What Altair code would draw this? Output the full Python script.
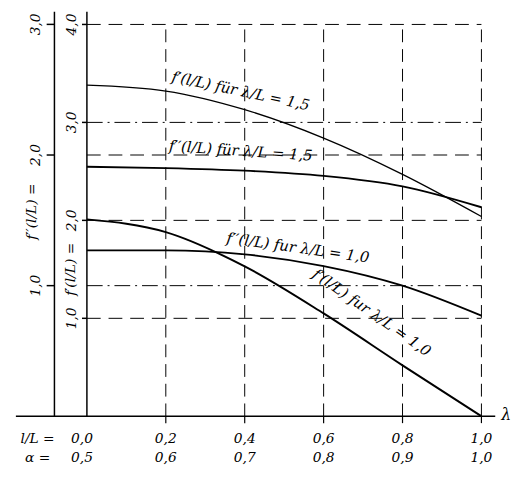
import altair as alt
import pandas as pd

# ---- data ----
l_over_L = [0.0, 0.2, 0.4, 0.6, 0.8, 1.0]
alpha_vals = [0.5, 0.6, 0.7, 0.8, 0.9, 1.0]
f1_15 = [3.38, 3.32, 3.13, 2.84, 2.47, 2.04]   # f'(l/L) für λ/L = 1,5  (inner axis)
f2_15 = [1.91, 1.90, 1.88, 1.84, 1.76, 1.60]   # f''(l/L) für λ/L = 1,5 (outer axis)
f1_10 = [2.01, 1.88, 1.53, 1.05, 0.52, 0.00]   # f'(l/L) fur λ/L = 1,0
f2_10 = [1.27, 1.27, 1.24, 1.15, 1.00, 0.77]   # f''(l/L) fur λ/L = 1,0
f1_ticks = [1.0, 2.0, 3.0, 4.0]
f2_ticks = [1.0, 2.0, 3.0]
grid_x = [0.2, 0.4, 0.6, 0.8, 1.0]

FONT = "DejaVu Serif"
xs = alt.Scale(domain=[-0.2, 1.055], nice=False, zero=False)
ys1 = alt.Scale(domain=[0, 4.13], nice=False, zero=False)
ys2 = alt.Scale(domain=[0, 3.097], nice=False, zero=False)


def X(f="x"):
    return alt.X(f"{f}:Q", scale=xs, axis=None)


def Y1(f="y"):
    return alt.Y(f"{f}:Q", scale=ys1, axis=None)


def Y2(f="y"):
    return alt.Y(f"{f}:Q", scale=ys2, axis=None)


def fmt(v):
    return f"{v:.1f}".replace(".", ",")


def txt(size, angle=0, align="center", dx=0):
    return dict(font=FONT, fontStyle="italic", fontSize=size, angle=angle,
                align=align, baseline="middle", color="black", dx=dx)


layers = []

# vertical dashed grid
vg = pd.DataFrame({"x": grid_x, "y": [0] * 5, "y2": [4.0] * 5})
layers.append(alt.Chart(vg).mark_rule(color="black", strokeWidth=1, strokeDash=[13, 7])
              .encode(x=X(), y=Y1(), y2="y2:Q"))

# horizontal grid (f' levels)
hg1 = pd.DataFrame({"y": [1.0, 2.0, 4.0], "x": [0] * 3, "x2": [1.0] * 3})
layers.append(alt.Chart(hg1).mark_rule(color="black", strokeWidth=1, strokeDash=[14, 8])
              .encode(x=X(), x2="x2:Q", y=Y1()))
hg1b = pd.DataFrame({"y": [3.0], "x": [0], "x2": [1.0]})
layers.append(alt.Chart(hg1b).mark_rule(color="black", strokeWidth=1, strokeDash=[16, 5, 2, 5])
              .encode(x=X(), x2="x2:Q", y=Y1()))
# horizontal grid (f'' levels)
hg2 = pd.DataFrame({"y": [1.0], "x": [0], "x2": [1.0]})
layers.append(alt.Chart(hg2).mark_rule(color="black", strokeWidth=1, strokeDash=[16, 5, 2, 5])
              .encode(x=X(), x2="x2:Q", y=Y2()))
hg2b = pd.DataFrame({"y": [2.0], "x": [0], "x2": [1.0]})
layers.append(alt.Chart(hg2b).mark_rule(color="black", strokeWidth=1, strokeDash=[14, 8])
              .encode(x=X(), x2="x2:Q", y=Y2()))

# axes lines
ax = pd.DataFrame({"x": [0.0, -0.0823], "y": [0, 0], "y2": [4.13, 4.13]})
layers.append(alt.Chart(ax).mark_rule(color="black", strokeWidth=1.5)
              .encode(x=X(), y=Y1(), y2="y2:Q"))
base = pd.DataFrame({"x": [-0.18], "x2": [1.035], "y": [0]})
layers.append(alt.Chart(base).mark_rule(color="black", strokeWidth=1.5)
              .encode(x=X(), x2="x2:Q", y=Y1()))

# ticks
t1 = pd.DataFrame({"y": f1_ticks, "x": [-0.0125] * 4, "x2": [0.0] * 4})
layers.append(alt.Chart(t1).mark_rule(color="black", strokeWidth=1.5)
              .encode(x=X(), x2="x2:Q", y=Y1()))
t2 = pd.DataFrame({"y": f2_ticks, "x": [-0.102] * 3, "x2": [-0.0823] * 3})
layers.append(alt.Chart(t2).mark_rule(color="black", strokeWidth=1.5)
              .encode(x=X(), x2="x2:Q", y=Y2()))
tx = pd.DataFrame({"x": grid_x, "y": [0] * 5, "y2": [-0.07] * 5})
layers.append(alt.Chart(tx).mark_rule(color="black", strokeWidth=1.2)
              .encode(x=X(), y=Y1(), y2="y2:Q"))

# curves
c1 = pd.DataFrame({"x": l_over_L, "y": f1_15})
c2 = pd.DataFrame({"x": l_over_L, "y": f2_15})
c3 = pd.DataFrame({"x": l_over_L, "y": f1_10})
c4 = pd.DataFrame({"x": l_over_L, "y": f2_10})
layers.append(alt.Chart(c1).mark_line(color="black", strokeWidth=1.3, interpolate="monotone")
              .encode(x=X(), y=Y1()))
layers.append(alt.Chart(c2).mark_line(color="black", strokeWidth=1.9, interpolate="monotone")
              .encode(x=X(), y=Y2()))
layers.append(alt.Chart(c3).mark_line(color="black", strokeWidth=2, interpolate="monotone")
              .encode(x=X(), y=Y1()))
layers.append(alt.Chart(c4).mark_line(color="black", strokeWidth=1.8, interpolate="monotone")
              .encode(x=X(), y=Y2()))

# tick labels (rotated)
tl1 = pd.DataFrame({"y": f1_ticks, "t": [fmt(v) for v in f1_ticks], "x": [-0.037] * 4})
layers.append(alt.Chart(tl1).mark_text(**txt(14, 270)).encode(x=X(), y=Y1(), text="t:N"))
tl2 = pd.DataFrame({"y": f2_ticks, "t": [fmt(v) for v in f2_ticks], "x": [-0.128] * 3})
layers.append(alt.Chart(tl2).mark_text(**txt(14, 270)).encode(x=X(), y=Y2(), text="t:N"))

# axis titles (rotated)
at = pd.DataFrame({"x": [-0.138, -0.04], "y": [2.09, 1.50],
                   "t": ["f′′(l/L) =", "f′(l/L) ="]})
layers.append(alt.Chart(at).mark_text(**txt(14, 270)).encode(x=X(), y=Y1(), text="t:N"))

# bottom labels
bl1 = pd.DataFrame({"x": l_over_L[1:], "t": [fmt(v) for v in l_over_L[1:]], "y": [-0.23] * 5})
layers.append(alt.Chart(bl1).mark_text(**txt(14)).encode(x=X(), y=Y1(), text="t:N"))
bl2 = pd.DataFrame({"x": l_over_L[1:], "t": [fmt(v) for v in alpha_vals[1:]], "y": [-0.43] * 5})
layers.append(alt.Chart(bl2).mark_text(**txt(14)).encode(x=X(), y=Y1(), text="t:N"))
bl0 = pd.DataFrame({"x": [l_over_L[0]] * 2, "y": [-0.23, -0.43],
                    "t": [fmt(l_over_L[0]), fmt(alpha_vals[0])]})
layers.append(alt.Chart(bl0).mark_text(**txt(14, dx=-5)).encode(x=X(), y=Y1(), text="t:N"))
rl = pd.DataFrame({"x": [-0.125, -0.125], "y": [-0.23, -0.43], "t": ["l/L =", "α ="]})
layers.append(alt.Chart(rl).mark_text(**txt(14)).encode(x=X(), y=Y1(), text="t:N"))
lam = pd.DataFrame({"x": [1.05], "y": [0.01], "t": ["λ"]})
layers.append(alt.Chart(lam).mark_text(**txt(16, align="left")).encode(x=X(), y=Y1(), text="t:N"))

# curve labels
labels = [
    (0.39, 3.32, "f′(l/L) für λ/L = 1,5", 12),
    (0.39, 2.71, "f′′(l/L) für λ/L = 1,5", 4),
    (0.535, 1.72, "f′′(l/L) fur λ/L = 1,0", 8),
    (0.722, 1.06, "f′(l/L) fur λ/L = 1,0", 35),
]
for lx, ly, lt, la in labels:
    d = pd.DataFrame({"x": [lx], "y": [ly], "t": [lt]})
    layers.append(alt.Chart(d).mark_text(**txt(15, la)).encode(x=X(), y=Y1(), text="t:N"))

chart = (
    alt.layer(*layers)
    .resolve_scale(y="independent")
    .properties(width=503, height=411,
                autosize=alt.AutoSizeParams(type="none"),
                padding={"left": 0, "top": 0, "right": 8, "bottom": 63},
                background="white")
    .configure_view(stroke=None)
)

chart.save("out.html", embed_options={"renderer": "svg", "actions": False})
